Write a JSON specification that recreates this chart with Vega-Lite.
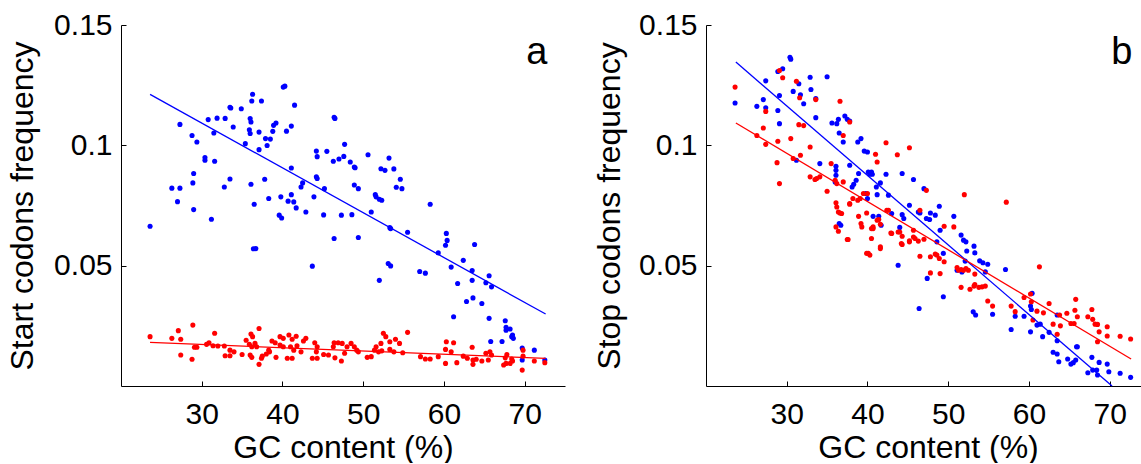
{
"$schema":"https://vega.github.io/schema/vega-lite/v6.json",
"background":"white",
"padding":{"left":5,"top":10,"right":0,"bottom":0},
"bounds":"flush",
"spacing":141,
"config":{"view":{"stroke":null},"font":"Liberation Sans",
"axis":{"domainColor":"black","tickColor":"black","domainWidth":1,"tickWidth":1,"tickSize":-5,"labelFontSize":30,"labelColor":"black","titleFontSize":32,"titleFontWeight":"normal","titleColor":"black","grid":false,"labelFont":"Liberation Sans","titleFont":"Liberation Sans"}},
"datasets":{
"a":[
{"s":"b","x":23.6,"y":0.0664},{"s":"b","x":27.3,"y":0.1087},{"s":"b","x":28.8,"y":0.1041},{"s":"b","x":29.4,"y":0.1014},{"s":"b","x":30.4,"y":0.0949},{"s":"b","x":30.4,"y":0.0938},{"s":"b","x":31.6,"y":0.0934},{"s":"b","x":29.0,"y":0.0883},{"s":"b","x":28.9,"y":0.0844},{"s":"b","x":26.3,"y":0.0822},{"s":"b","x":27.3,"y":0.0822},{"s":"b","x":27.0,"y":0.0766},{"s":"b","x":29.0,"y":0.0733},{"s":"b","x":31.2,"y":0.0693},{"s":"b","x":30.8,"y":0.1107},{"s":"b","x":31.9,"y":0.1113},{"s":"b","x":32.9,"y":0.1112},{"s":"b","x":31.5,"y":0.1051},{"s":"b","x":33.5,"y":0.1158},{"s":"b","x":33.6,"y":0.1155},{"s":"b","x":34.9,"y":0.1152},{"s":"b","x":33.9,"y":0.1076},{"s":"b","x":36.3,"y":0.1212},{"s":"b","x":36.2,"y":0.1184},{"s":"b","x":37.4,"y":0.1184},{"s":"b","x":36.0,"y":0.1111},{"s":"b","x":36.1,"y":0.1097},{"s":"b","x":35.9,"y":0.1065},{"s":"b","x":36.0,"y":0.1049},{"s":"b","x":37.1,"y":0.1055},{"s":"b","x":35.4,"y":0.1007},{"s":"b","x":37.1,"y":0.0982},{"s":"b","x":37.9,"y":0.1028},{"s":"b","x":38.5,"y":0.1026},{"s":"b","x":38.1,"y":0.0999},{"s":"b","x":38.8,"y":0.1058},{"s":"b","x":38.9,"y":0.1083},{"s":"b","x":39.2,"y":0.1093},{"s":"b","x":40.1,"y":0.1242},{"s":"b","x":40.3,"y":0.1246},{"s":"b","x":41.5,"y":0.1167},{"s":"b","x":40.5,"y":0.1059},{"s":"b","x":41.1,"y":0.1080},{"s":"b","x":41.1,"y":0.0906},{"s":"b","x":33.5,"y":0.0860},{"s":"b","x":32.8,"y":0.0827},{"s":"b","x":36.1,"y":0.0838},{"s":"b","x":37.8,"y":0.0859},{"s":"b","x":36.5,"y":0.0755},{"s":"b","x":38.3,"y":0.0779},{"s":"b","x":36.4,"y":0.0570},{"s":"b","x":36.7,"y":0.0571},{"s":"b","x":39.6,"y":0.0710},{"s":"b","x":39.9,"y":0.0698},{"s":"b","x":39.8,"y":0.0786},{"s":"b","x":40.7,"y":0.0768},{"s":"b","x":41.1,"y":0.0795},{"s":"b","x":41.4,"y":0.0765},{"s":"b","x":41.7,"y":0.0740},{"s":"b","x":42.3,"y":0.0827},{"s":"b","x":42.5,"y":0.0844},{"s":"b","x":42.9,"y":0.0723},{"s":"b","x":43.9,"y":0.0786},{"s":"b","x":44.2,"y":0.0869},{"s":"b","x":44.3,"y":0.0862},{"s":"b","x":45.2,"y":0.0820},{"s":"b","x":44.2,"y":0.0976},{"s":"b","x":44.3,"y":0.0953},{"s":"b","x":45.5,"y":0.0975},{"s":"b","x":46.3,"y":0.0934},{"s":"b","x":47.0,"y":0.0943},{"s":"b","x":47.6,"y":0.0954},{"s":"b","x":46.4,"y":0.1117},{"s":"b","x":46.5,"y":0.1112},{"s":"b","x":47.7,"y":0.1004},{"s":"b","x":45.1,"y":0.0711},{"s":"b","x":47.3,"y":0.0710},{"s":"b","x":46.4,"y":0.0613},{"s":"b","x":48.9,"y":0.0910},{"s":"b","x":49.0,"y":0.0907},{"s":"b","x":48.4,"y":0.0931},{"s":"b","x":50.6,"y":0.0961},{"s":"b","x":53.2,"y":0.0947},{"s":"b","x":52.2,"y":0.0903},{"s":"b","x":52.7,"y":0.0896},{"s":"b","x":53.8,"y":0.0902},{"s":"b","x":54.6,"y":0.0859},{"s":"b","x":54.1,"y":0.0826},{"s":"b","x":54.8,"y":0.0820},{"s":"b","x":48.9,"y":0.0835},{"s":"b","x":49.4,"y":0.0820},{"s":"b","x":51.5,"y":0.0795},{"s":"b","x":51.6,"y":0.0786},{"s":"b","x":52.0,"y":0.0776},{"s":"b","x":52.3,"y":0.0772},{"s":"b","x":51.0,"y":0.0723},{"s":"b","x":48.6,"y":0.0712},{"s":"b","x":49.4,"y":0.0617},{"s":"b","x":58.3,"y":0.0755},{"s":"b","x":53.4,"y":0.0654},{"s":"b","x":53.3,"y":0.0658},{"s":"b","x":55.5,"y":0.0639},{"s":"b","x":60.3,"y":0.0634},{"s":"b","x":60.4,"y":0.0605},{"s":"b","x":60.2,"y":0.0585},{"s":"b","x":59.3,"y":0.0553},{"s":"b","x":63.8,"y":0.0588},{"s":"b","x":62.4,"y":0.0522},{"s":"b","x":60.9,"y":0.0494},{"s":"b","x":63.5,"y":0.0480},{"s":"b","x":63.5,"y":0.0439},{"s":"b","x":61.7,"y":0.0426},{"s":"b","x":65.6,"y":0.0458},{"s":"b","x":65.2,"y":0.0429},{"s":"b","x":65.9,"y":0.0412},{"s":"b","x":62.8,"y":0.0351},{"s":"b","x":63.6,"y":0.0366},{"s":"b","x":64.7,"y":0.0343},{"s":"b","x":57.0,"y":0.0476},{"s":"b","x":57.7,"y":0.0469},{"s":"b","x":53.1,"y":0.0509},{"s":"b","x":53.4,"y":0.0499},{"s":"b","x":52.0,"y":0.0439},{"s":"b","x":43.7,"y":0.0498},{"s":"b","x":61.2,"y":0.0288},{"s":"b","x":65.6,"y":0.0281},{"s":"b","x":67.6,"y":0.0271},{"s":"b","x":67.7,"y":0.0244},{"s":"b","x":67.7,"y":0.0232},{"s":"b","x":68.2,"y":0.0237},{"s":"b","x":68.5,"y":0.0212},{"s":"b","x":68.6,"y":0.0198},{"s":"b","x":68.4,"y":0.0205},{"s":"b","x":65.8,"y":0.0185},{"s":"b","x":67.2,"y":0.0185},{"s":"b","x":69.7,"y":0.0158},{"s":"b","x":71.2,"y":0.0149},{"s":"b","x":69.7,"y":0.0108},{"s":"b","x":72.5,"y":0.0108},
{"s":"r","x":23.6,"y":0.0205},{"s":"r","x":26.3,"y":0.0198},{"s":"r","x":27.1,"y":0.0230},{"s":"r","x":27.4,"y":0.0194},{"s":"r","x":27.4,"y":0.0129},{"s":"r","x":28.9,"y":0.0253},{"s":"r","x":28.8,"y":0.0111},{"s":"r","x":29.1,"y":0.0161},{"s":"r","x":29.4,"y":0.0161},{"s":"r","x":30.6,"y":0.0173},{"s":"r","x":30.9,"y":0.0180},{"s":"r","x":31.6,"y":0.0219},{"s":"r","x":31.4,"y":0.0167},{"s":"r","x":32.0,"y":0.0166},{"s":"r","x":32.8,"y":0.0166},{"s":"r","x":33.5,"y":0.0149},{"s":"r","x":34.0,"y":0.0142},{"s":"r","x":32.9,"y":0.0126},{"s":"r","x":33.5,"y":0.0126},{"s":"r","x":35.0,"y":0.0131},{"s":"r","x":35.5,"y":0.0190},{"s":"r","x":36.1,"y":0.0216},{"s":"r","x":36.3,"y":0.0205},{"s":"r","x":37.1,"y":0.0239},{"s":"r","x":35.9,"y":0.0173},{"s":"r","x":36.2,"y":0.0163},{"s":"r","x":36.6,"y":0.0177},{"s":"r","x":36.8,"y":0.0163},{"s":"r","x":36.0,"y":0.0129},{"s":"r","x":36.2,"y":0.0119},{"s":"r","x":37.1,"y":0.0090},{"s":"r","x":37.5,"y":0.0124},{"s":"r","x":38.0,"y":0.0133},{"s":"r","x":38.4,"y":0.0142},{"s":"r","x":37.4,"y":0.0115},{"s":"r","x":38.3,"y":0.0149},{"s":"r","x":38.7,"y":0.0187},{"s":"r","x":39.1,"y":0.0180},{"s":"r","x":39.7,"y":0.0205},{"s":"r","x":40.1,"y":0.0198},{"s":"r","x":40.8,"y":0.0212},{"s":"r","x":41.2,"y":0.0194},{"s":"r","x":41.7,"y":0.0207},{"s":"r","x":39.7,"y":0.0170},{"s":"r","x":40.1,"y":0.0163},{"s":"r","x":41.0,"y":0.0163},{"s":"r","x":41.4,"y":0.0149},{"s":"r","x":41.8,"y":0.0167},{"s":"r","x":39.2,"y":0.0119},{"s":"r","x":40.6,"y":0.0115},{"s":"r","x":41.2,"y":0.0115},{"s":"r","x":42.3,"y":0.0142},{"s":"r","x":42.9,"y":0.0198},{"s":"r","x":42.6,"y":0.0187},{"s":"r","x":44.0,"y":0.0180},{"s":"r","x":44.3,"y":0.0163},{"s":"r","x":44.2,"y":0.0142},{"s":"r","x":43.7,"y":0.0115},{"s":"r","x":44.3,"y":0.0115},{"s":"r","x":45.1,"y":0.0131},{"s":"r","x":45.7,"y":0.0129},{"s":"r","x":46.4,"y":0.0180},{"s":"r","x":46.9,"y":0.0180},{"s":"r","x":47.4,"y":0.0177},{"s":"r","x":46.3,"y":0.0163},{"s":"r","x":48.0,"y":0.0163},{"s":"r","x":46.5,"y":0.0117},{"s":"r","x":47.3,"y":0.0104},{"s":"r","x":47.7,"y":0.0136},{"s":"r","x":48.5,"y":0.0177},{"s":"r","x":48.9,"y":0.0163},{"s":"r","x":49.2,"y":0.0149},{"s":"r","x":49.4,"y":0.0142},{"s":"r","x":50.5,"y":0.0119},{"s":"r","x":51.0,"y":0.0122},{"s":"r","x":51.4,"y":0.0149},{"s":"r","x":51.9,"y":0.0142},{"s":"r","x":52.3,"y":0.0146},{"s":"r","x":51.6,"y":0.0163},{"s":"r","x":52.2,"y":0.0177},{"s":"r","x":52.5,"y":0.0219},{"s":"r","x":52.8,"y":0.0205},{"s":"r","x":53.3,"y":0.0184},{"s":"r","x":54.0,"y":0.0194},{"s":"r","x":54.5,"y":0.0177},{"s":"r","x":53.3,"y":0.0152},{"s":"r","x":53.8,"y":0.0142},{"s":"r","x":54.9,"y":0.0138},{"s":"r","x":55.5,"y":0.0223},{"s":"r","x":57.1,"y":0.0122},{"s":"r","x":57.7,"y":0.0112},{"s":"r","x":58.3,"y":0.0112},{"s":"r","x":59.3,"y":0.0122},{"s":"r","x":60.3,"y":0.0184},{"s":"r","x":61.2,"y":0.0180},{"s":"r","x":60.2,"y":0.0152},{"s":"r","x":60.9,"y":0.0142},{"s":"r","x":60.2,"y":0.0094},{"s":"r","x":61.6,"y":0.0097},{"s":"r","x":62.4,"y":0.0124},{"s":"r","x":62.9,"y":0.0115},{"s":"r","x":63.5,"y":0.0161},{"s":"r","x":63.6,"y":0.0108},{"s":"r","x":63.6,"y":0.0090},{"s":"r","x":64.0,"y":0.0111},{"s":"r","x":64.7,"y":0.0104},{"s":"r","x":65.2,"y":0.0136},{"s":"r","x":65.7,"y":0.0142},{"s":"r","x":65.9,"y":0.0129},{"s":"r","x":65.5,"y":0.0108},{"s":"r","x":67.4,"y":0.0087},{"s":"r","x":67.7,"y":0.0094},{"s":"r","x":68.2,"y":0.0094},{"s":"r","x":68.5,"y":0.0104},{"s":"r","x":67.6,"y":0.0117},{"s":"r","x":67.8,"y":0.0131},{"s":"r","x":68.4,"y":0.0112},{"s":"r","x":69.8,"y":0.0149},{"s":"r","x":69.8,"y":0.0124},{"s":"r","x":69.7,"y":0.0066},{"s":"r","x":71.2,"y":0.0104},{"s":"r","x":72.5,"y":0.0097}
],
"b":[
{"s":"b","x":23.6,"y":0.1176},{"s":"b","x":27.4,"y":0.1268},{"s":"b","x":26.3,"y":0.1162},{"s":"b","x":27.1,"y":0.1190},{"s":"b","x":27.4,"y":0.1156},{"s":"b","x":28.9,"y":0.1145},{"s":"b","x":29.1,"y":0.1090},{"s":"b","x":29.1,"y":0.1207},{"s":"b","x":28.9,"y":0.1307},{"s":"b","x":29.5,"y":0.1318},{"s":"b","x":30.4,"y":0.1366},{"s":"b","x":30.5,"y":0.1358},{"s":"b","x":30.8,"y":0.1224},{"s":"b","x":31.5,"y":0.1256},{"s":"b","x":31.7,"y":0.1210},{"s":"b","x":32.1,"y":0.1173},{"s":"b","x":32.9,"y":0.1283},{"s":"b","x":33.0,"y":0.1232},{"s":"b","x":33.6,"y":0.1194},{"s":"b","x":33.6,"y":0.1115},{"s":"b","x":35.0,"y":0.1285},{"s":"b","x":35.6,"y":0.1093},{"s":"b","x":36.2,"y":0.1090},{"s":"b","x":36.4,"y":0.1108},{"s":"b","x":37.2,"y":0.1122},{"s":"b","x":37.5,"y":0.1108},{"s":"b","x":37.8,"y":0.1101},{"s":"b","x":36.5,"y":0.1051},{"s":"b","x":37.0,"y":0.1014},{"s":"b","x":38.8,"y":0.1014},{"s":"b","x":39.2,"y":0.1028},{"s":"b","x":39.6,"y":0.0976},{"s":"b","x":40.0,"y":0.0972},{"s":"b","x":34.1,"y":0.0924},{"s":"b","x":31.2,"y":0.0938},{"s":"b","x":36.1,"y":0.0913},{"s":"b","x":36.1,"y":0.0896},{"s":"b","x":36.1,"y":0.0876},{"s":"b","x":36.0,"y":0.0848},{"s":"b","x":37.8,"y":0.0917},{"s":"b","x":38.3,"y":0.0838},{"s":"b","x":38.6,"y":0.0855},{"s":"b","x":38.1,"y":0.0827},{"s":"b","x":38.9,"y":0.0883},{"s":"b","x":40.1,"y":0.0889},{"s":"b","x":40.5,"y":0.0889},{"s":"b","x":40.3,"y":0.0880},{"s":"b","x":40.6,"y":0.0880},{"s":"b","x":41.1,"y":0.0827},{"s":"b","x":41.6,"y":0.0844},{"s":"b","x":42.3,"y":0.0880},{"s":"b","x":41.2,"y":0.0795},{"s":"b","x":40.0,"y":0.0779},{"s":"b","x":39.8,"y":0.0800},{"s":"b","x":42.6,"y":0.0793},{"s":"b","x":44.3,"y":0.0883},{"s":"b","x":45.7,"y":0.0858},{"s":"b","x":40.7,"y":0.0705},{"s":"b","x":41.4,"y":0.0705},{"s":"b","x":41.7,"y":0.0668},{"s":"b","x":43.0,"y":0.0717},{"s":"b","x":44.3,"y":0.0712},{"s":"b","x":44.5,"y":0.0696},{"s":"b","x":44.0,"y":0.0659},{"s":"b","x":45.2,"y":0.0751},{"s":"b","x":36.5,"y":0.0675},{"s":"b","x":36.7,"y":0.0668},{"s":"b","x":47.0,"y":0.0820},{"s":"b","x":46.3,"y":0.0723},{"s":"b","x":46.5,"y":0.0719},{"s":"b","x":47.3,"y":0.0696},{"s":"b","x":47.7,"y":0.0692},{"s":"b","x":47.8,"y":0.0719},{"s":"b","x":48.4,"y":0.0710},{"s":"b","x":48.9,"y":0.0747},{"s":"b","x":49.0,"y":0.0647},{"s":"b","x":48.6,"y":0.0599},{"s":"b","x":49.4,"y":0.0551},{"s":"b","x":50.7,"y":0.0705},{"s":"b","x":49.4,"y":0.0371},{"s":"b","x":46.4,"y":0.0322},{"s":"b","x":47.4,"y":0.0447},{"s":"b","x":43.8,"y":0.0502},{"s":"b","x":51.6,"y":0.0627},{"s":"b","x":51.9,"y":0.0606},{"s":"b","x":52.2,"y":0.0599},{"s":"b","x":52.3,"y":0.0561},{"s":"b","x":53.2,"y":0.0581},{"s":"b","x":53.3,"y":0.0553},{"s":"b","x":53.9,"y":0.0520},{"s":"b","x":54.3,"y":0.0512},{"s":"b","x":54.9,"y":0.0506},{"s":"b","x":54.6,"y":0.0474},{"s":"b","x":52.1,"y":0.0519},{"s":"b","x":51.7,"y":0.0474},{"s":"b","x":51.1,"y":0.0481},{"s":"b","x":57.1,"y":0.0484},{"s":"b","x":53.1,"y":0.0308},{"s":"b","x":53.4,"y":0.0295},{"s":"b","x":55.5,"y":0.0298},{"s":"b","x":57.8,"y":0.0235},{"s":"b","x":58.3,"y":0.0290},{"s":"b","x":59.4,"y":0.0290},{"s":"b","x":60.2,"y":0.0332},{"s":"b","x":60.3,"y":0.0318},{"s":"b","x":60.4,"y":0.0385},{"s":"b","x":60.2,"y":0.0225},{"s":"b","x":61.0,"y":0.0253},{"s":"b","x":61.4,"y":0.0257},{"s":"b","x":61.7,"y":0.0205},{"s":"b","x":62.5,"y":0.0223},{"s":"b","x":63.5,"y":0.0295},{"s":"b","x":63.5,"y":0.0188},{"s":"b","x":63.0,"y":0.0140},{"s":"b","x":63.5,"y":0.0133},{"s":"b","x":63.7,"y":0.0101},{"s":"b","x":64.8,"y":0.0112},{"s":"b","x":65.2,"y":0.0091},{"s":"b","x":65.5,"y":0.0097},{"s":"b","x":65.8,"y":0.0108},{"s":"b","x":65.9,"y":0.0163},{"s":"b","x":66.0,"y":0.0163},{"s":"b","x":67.3,"y":0.0055},{"s":"b","x":67.8,"y":0.0119},{"s":"b","x":67.9,"y":0.0066},{"s":"b","x":68.4,"y":0.0066},{"s":"b","x":68.5,"y":0.0046},{"s":"b","x":68.7,"y":0.0098},{"s":"b","x":69.7,"y":0.0091},{"s":"b","x":69.9,"y":0.0059},{"s":"b","x":71.3,"y":0.0053},{"s":"b","x":72.6,"y":0.0036},
{"s":"r","x":23.6,"y":0.1242},{"s":"r","x":29.1,"y":0.1311},{"s":"r","x":29.5,"y":0.1281},{"s":"r","x":27.4,"y":0.1141},{"s":"r","x":27.1,"y":0.1072},{"s":"r","x":26.3,"y":0.1041},{"s":"r","x":27.4,"y":0.1004},{"s":"r","x":28.9,"y":0.1017},{"s":"r","x":30.5,"y":0.1028},{"s":"r","x":31.2,"y":0.1266},{"s":"r","x":31.5,"y":0.1086},{"s":"r","x":32.1,"y":0.1082},{"s":"r","x":32.9,"y":0.0993},{"s":"r","x":33.6,"y":0.1190},{"s":"r","x":31.7,"y":0.0959},{"s":"r","x":36.6,"y":0.1183},{"s":"r","x":37.0,"y":0.1041},{"s":"r","x":37.8,"y":0.1097},{"s":"r","x":41.0,"y":0.0963},{"s":"r","x":31.6,"y":0.1198},{"s":"r","x":28.8,"y":0.0928},{"s":"r","x":29.1,"y":0.0841},{"s":"r","x":30.8,"y":0.0945},{"s":"r","x":32.9,"y":0.0869},{"s":"r","x":33.5,"y":0.0858},{"s":"r","x":33.7,"y":0.0862},{"s":"r","x":34.1,"y":0.0869},{"s":"r","x":35.0,"y":0.0809},{"s":"r","x":35.5,"y":0.0924},{"s":"r","x":36.0,"y":0.0855},{"s":"r","x":36.2,"y":0.0841},{"s":"r","x":37.0,"y":0.0848},{"s":"r","x":36.1,"y":0.0761},{"s":"r","x":36.2,"y":0.0744},{"s":"r","x":36.4,"y":0.0723},{"s":"r","x":36.8,"y":0.0717},{"s":"r","x":36.1,"y":0.0661},{"s":"r","x":36.4,"y":0.0643},{"s":"r","x":37.6,"y":0.0609},{"s":"r","x":37.8,"y":0.0758},{"s":"r","x":38.2,"y":0.0779},{"s":"r","x":38.8,"y":0.0772},{"s":"r","x":39.1,"y":0.0779},{"s":"r","x":39.5,"y":0.0800},{"s":"r","x":40.0,"y":0.0800},{"s":"r","x":38.9,"y":0.0705},{"s":"r","x":39.2,"y":0.0675},{"s":"r","x":39.3,"y":0.0661},{"s":"r","x":39.9,"y":0.0719},{"s":"r","x":40.7,"y":0.0661},{"s":"r","x":41.2,"y":0.0689},{"s":"r","x":41.4,"y":0.0692},{"s":"r","x":41.6,"y":0.0672},{"s":"r","x":40.5,"y":0.0613},{"s":"r","x":41.6,"y":0.0578},{"s":"r","x":41.2,"y":0.0931},{"s":"r","x":42.3,"y":0.1011},{"s":"r","x":43.7,"y":0.0961},{"s":"r","x":45.2,"y":0.0990},{"s":"r","x":42.6,"y":0.0730},{"s":"r","x":42.9,"y":0.0636},{"s":"r","x":43.8,"y":0.0640},{"s":"r","x":44.3,"y":0.0622},{"s":"r","x":45.2,"y":0.0603},{"s":"r","x":44.2,"y":0.0592},{"s":"r","x":45.7,"y":0.0647},{"s":"r","x":45.9,"y":0.0613},{"s":"r","x":40.3,"y":0.0544},{"s":"r","x":41.6,"y":0.0571},{"s":"r","x":39.9,"y":0.0551},{"s":"r","x":40.7,"y":0.0654},{"s":"r","x":43.0,"y":0.0634},{"s":"r","x":45.7,"y":0.0619},{"s":"r","x":46.3,"y":0.0602},{"s":"r","x":46.5,"y":0.0730},{"s":"r","x":47.0,"y":0.0610},{"s":"r","x":47.3,"y":0.0813},{"s":"r","x":46.5,"y":0.0539},{"s":"r","x":47.8,"y":0.0537},{"s":"r","x":48.4,"y":0.0548},{"s":"r","x":48.6,"y":0.0544},{"s":"r","x":48.9,"y":0.0530},{"s":"r","x":49.5,"y":0.0516},{"s":"r","x":49.5,"y":0.0664},{"s":"r","x":50.7,"y":0.0661},{"s":"r","x":47.8,"y":0.0470},{"s":"r","x":49.0,"y":0.0467},{"s":"r","x":52.0,"y":0.0795},{"s":"r","x":51.1,"y":0.0492},{"s":"r","x":51.3,"y":0.0481},{"s":"r","x":51.6,"y":0.0484},{"s":"r","x":51.9,"y":0.0481},{"s":"r","x":52.2,"y":0.0488},{"s":"r","x":52.5,"y":0.0481},{"s":"r","x":53.3,"y":0.0465},{"s":"r","x":51.6,"y":0.0410},{"s":"r","x":52.7,"y":0.0402},{"s":"r","x":53.2,"y":0.0415},{"s":"r","x":53.3,"y":0.0422},{"s":"r","x":53.8,"y":0.0410},{"s":"r","x":54.2,"y":0.0412},{"s":"r","x":54.6,"y":0.0415},{"s":"r","x":54.9,"y":0.0353},{"s":"r","x":55.5,"y":0.0332},{"s":"r","x":57.2,"y":0.0764},{"s":"r","x":61.3,"y":0.0495},{"s":"r","x":57.8,"y":0.0332},{"s":"r","x":58.3,"y":0.0309},{"s":"r","x":59.4,"y":0.0368},{"s":"r","x":60.2,"y":0.0382},{"s":"r","x":60.3,"y":0.0350},{"s":"r","x":60.5,"y":0.0274},{"s":"r","x":61.0,"y":0.0311},{"s":"r","x":61.8,"y":0.0304},{"s":"r","x":62.5,"y":0.0343},{"s":"r","x":63.0,"y":0.0257},{"s":"r","x":63.8,"y":0.0295},{"s":"r","x":63.5,"y":0.0215},{"s":"r","x":63.9,"y":0.0250},{"s":"r","x":64.7,"y":0.0302},{"s":"r","x":65.2,"y":0.0260},{"s":"r","x":65.6,"y":0.0260},{"s":"r","x":65.7,"y":0.0315},{"s":"r","x":65.8,"y":0.0360},{"s":"r","x":66.0,"y":0.0288},{"s":"r","x":67.3,"y":0.0288},{"s":"r","x":67.8,"y":0.0318},{"s":"r","x":67.9,"y":0.0277},{"s":"r","x":68.2,"y":0.0257},{"s":"r","x":68.5,"y":0.0256},{"s":"r","x":68.7,"y":0.0225},{"s":"r","x":68.5,"y":0.0184},{"s":"r","x":69.7,"y":0.0246},{"s":"r","x":69.7,"y":0.0208},{"s":"r","x":71.3,"y":0.0207},{"s":"r","x":72.6,"y":0.0195},{"s":"r","x":36.6,"y":0.0719},{"s":"r","x":37.5,"y":0.0609},{"s":"r","x":37.8,"y":0.0755},{"s":"r","x":40.5,"y":0.0654},{"s":"r","x":40.1,"y":0.0551},{"s":"r","x":42.4,"y":0.0730},{"s":"r","x":44.0,"y":0.0640},{"s":"r","x":44.3,"y":0.0588},{"s":"r","x":45.2,"y":0.0599}
],
"la":[{"s":"b","x":23.6,"y":0.1212},{"s":"b","x":72.6,"y":0.0299},{"s":"r","x":23.6,"y":0.0181},{"s":"r","x":72.6,"y":0.0115}],
"lb":[{"s":"b","x":23.7,"y":0.1346},{"s":"b","x":70.3,"y":0.0},{"s":"r","x":23.7,"y":0.1093},{"s":"r","x":72.66,"y":0.0112}],
"ta":[{"t":"a","x":71.5,"y":0.134}],
"tb":[{"t":"b","x":71.5,"y":0.134}]
},
"hconcat":[
{"width":444,"height":361,
"encoding":{
"x":{"field":"x","type":"quantitative","scale":{"domain":[20,75],"nice":false,"zero":false},"axis":{"values":[30,40,50,60,70],"title":"GC content (%)","labelPadding":18,"titleY":71,"titleBaseline":"alphabetic"}},
"y":{"field":"y","type":"quantitative","scale":{"domain":[0,0.15],"nice":false,"zero":false},"axis":{"values":[0.05,0.1,0.15],"format":".2~f","title":"Start codons frequency","labelPadding":14,"titleX":-89,"titleY":180.5,"titleBaseline":"alphabetic"}}},
"layer":[
{"data":{"name":"a"},"mark":{"type":"point","filled":true,"shape":"circle","size":26,"opacity":1},"encoding":{"color":{"field":"s","type":"nominal","scale":{"domain":["b","r"],"range":["#0000ff","#ff0000"]},"legend":null}}},
{"data":{"name":"la"},"mark":{"type":"line","strokeWidth":1.3},"encoding":{"color":{"field":"s","type":"nominal","scale":{"domain":["b","r"],"range":["#0000ff","#ff0000"]},"legend":null}}},
{"data":{"name":"ta"},"mark":{"type":"text","fontSize":38,"align":"center","baseline":"alphabetic","color":"black","font":"Liberation Sans"},"encoding":{"text":{"field":"t"}}}
]},
{"width":444,"height":361,
"encoding":{
"x":{"field":"x","type":"quantitative","scale":{"domain":[20,75],"nice":false,"zero":false},"axis":{"values":[30,40,50,60,70],"title":"GC content (%)","labelPadding":18,"titleY":71,"titleBaseline":"alphabetic"}},
"y":{"field":"y","type":"quantitative","scale":{"domain":[0,0.15],"nice":false,"zero":false},"axis":{"values":[0.05,0.1,0.15],"format":".2~f","title":"Stop codons frequency","labelPadding":14,"titleX":-87,"titleY":180.5,"titleBaseline":"alphabetic"}}},
"layer":[
{"data":{"name":"b"},"mark":{"type":"point","filled":true,"shape":"circle","size":26,"opacity":1},"encoding":{"color":{"field":"s","type":"nominal","scale":{"domain":["b","r"],"range":["#0000ff","#ff0000"]},"legend":null}}},
{"data":{"name":"lb"},"mark":{"type":"line","strokeWidth":1.3},"encoding":{"color":{"field":"s","type":"nominal","scale":{"domain":["b","r"],"range":["#0000ff","#ff0000"]},"legend":null}}},
{"data":{"name":"tb"},"mark":{"type":"text","fontSize":38,"align":"center","baseline":"alphabetic","color":"black","font":"Liberation Sans"},"encoding":{"text":{"field":"t"}}}
]}
]
}
